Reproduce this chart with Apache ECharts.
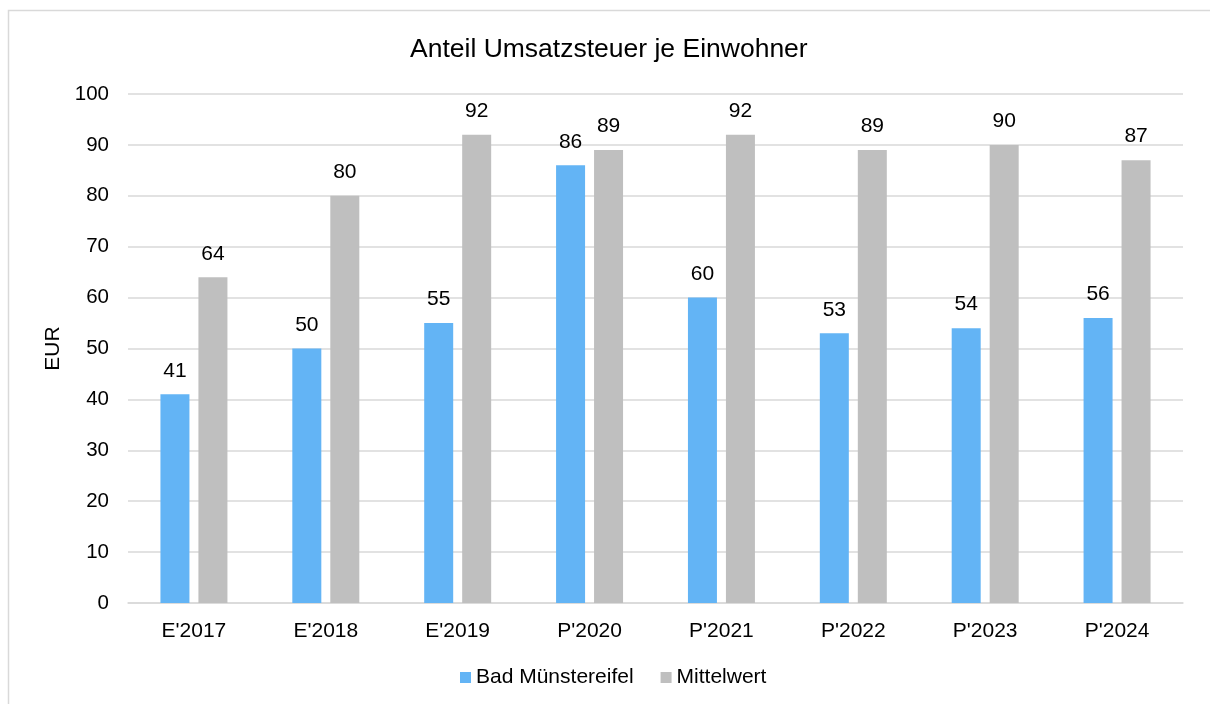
<!DOCTYPE html>
<html><head><meta charset="utf-8">
<script src="https://cdn.jsdelivr.net/npm/echarts@6/dist/echarts.min.js"></script>
<style>html,body{margin:0;padding:0;background:#fff}#c{width:1210px;height:704px}</style>
</head><body><div id="c"></div>
<script>
const categories = ["E'2017","E'2018","E'2019","P'2020","P'2021","P'2022","P'2023","P'2024"];
const badMuenstereifel = [41,50,55,86,60,53,54,56];
const mittelwert = [64,80,92,89,92,89,90,87];
const yTicks = {min:0,max:100,interval:10};
const font = 'Liberation Sans, Arial, sans-serif';
const chart = echarts.init(document.getElementById('c'));
const lbl = {show:true,position:'top',distance:13,color:'#000',fontSize:21,fontFamily:font};
chart.setOption({
  animation:false,
  graphic:[{type:'rect',shape:{x:8.5,y:10.5,width:1300,height:800},style:{fill:'none',stroke:'#d9d9d9',lineWidth:1.5},silent:true}],
  title:{text:'Anteil Umsatzsteuer je Einwohner',left:405,top:31,textStyle:{fontFamily:font,fontSize:26.5,fontWeight:'normal',color:'#000'}},
  legend:{bottom:11,left:455,itemWidth:11,itemHeight:11,itemGap:27,icon:'rect',textStyle:{fontFamily:font,fontSize:21,color:'#000'}},
  grid:{left:128,right:27,top:94,bottom:101,containLabel:false},
  xAxis:{type:'category',data:categories,axisTick:{show:false},axisLine:{lineStyle:{color:'#d9d9d9',width:1.5}},
    axisLabel:{fontFamily:font,fontSize:21,color:'#000',margin:18}},
  yAxis:{type:'value',min:yTicks.min,max:yTicks.max,interval:yTicks.interval,name:'EUR',nameLocation:'middle',nameGap:62,nameRotate:90,
    nameTextStyle:{fontFamily:font,fontSize:21,color:'#000'},
    axisLabel:{fontFamily:font,fontSize:20.5,color:'#000',margin:19},
    splitLine:{lineStyle:{color:'#d9d9d9',width:1.5}},axisLine:{show:false},axisTick:{show:false}},
  series:[
    {name:'Bad Münstereifel',type:'bar',data:badMuenstereifel,barWidth:29,barGap:'31%',itemStyle:{color:'#63B4F5'},label:lbl},
    {name:'Mittelwert',type:'bar',data:mittelwert,barWidth:29,itemStyle:{color:'#BFBFBF'},label:lbl}
  ]
});
</script></body></html>
